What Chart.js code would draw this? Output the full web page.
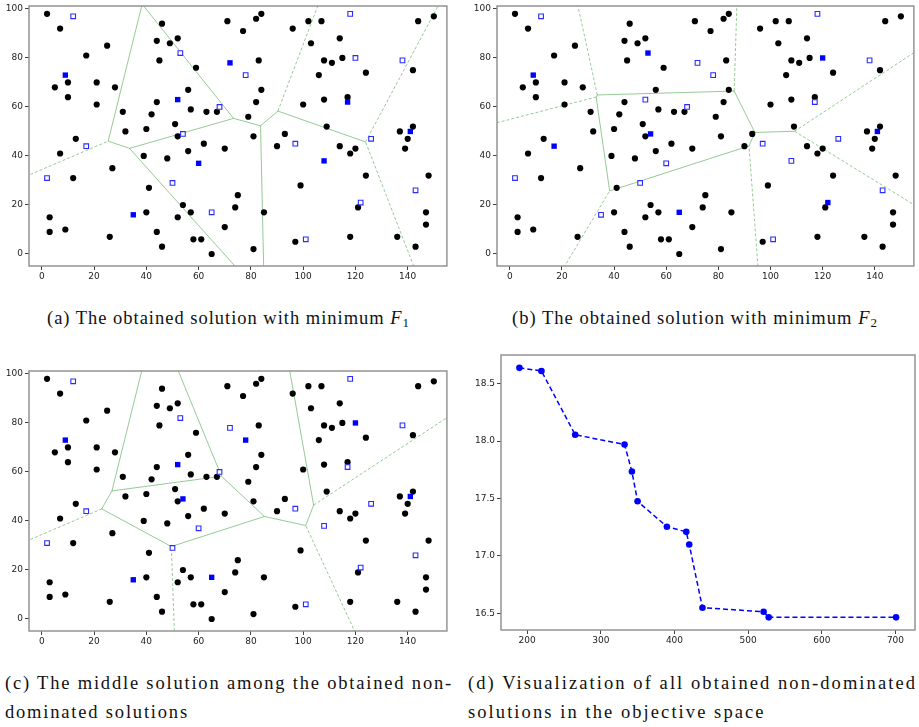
<!DOCTYPE html>
<html>
<head>
<meta charset="utf-8">
<script src="https://cdn.jsdelivr.net/npm/chart.js@4/dist/chart.umd.min.js"></script>
<style>
  body { margin: 0; background: #fff; width: 919px; height: 727px; position: relative; overflow: hidden; }
  canvas { position: absolute; }
  .cap { position: absolute; font-family: "Liberation Serif", "DejaVu Serif", serif; font-size: 18.5px; line-height: 20px; color: #111; white-space: nowrap; }
  .cap sub { font-size: 13px; line-height: 0; vertical-align: -3px; }
</style>
</head>
<body>
<canvas id="mapA" width="452" height="285" style="left:0;top:0"></canvas>
<canvas id="mapB" width="451" height="285" style="left:468px;top:0"></canvas>
<canvas id="mapC" width="452" height="285" style="left:0;top:365px"></canvas>
<canvas id="front" width="451" height="300" style="left:468px;top:349px"></canvas>

<div class="cap fit" data-w="363" style="left:47px;top:308px">(a) The obtained solution with minimum <i>F</i><sub>1</sub></div>
<div class="cap fit" data-w="366" style="left:512px;top:308px">(b) The obtained solution with minimum <i>F</i><sub>2</sub></div>
<div class="cap fit" data-w="448" id="c1" style="left:5px;top:673px">(c) The middle solution among the obtained non-</div>
<div class="cap" data-ref="c1" style="left:5px;top:702px">dominated solutions</div>
<div class="cap fit" data-w="449" id="d1" style="left:468px;top:673px">(d) Visualization of all obtained non-dominated</div>
<div class="cap" data-ref="d1" style="left:468px;top:702px">solutions in the objective space</div>

<script>
// customers (black dots), same in the three maps
const customers = [
  [2,98],[7,92],[25,85],[17,81],[10,70],[5,68],[21,70],[28,68],[10,64],[21,61],
  [31,58],[32,50],[13,47],[7,41],[27,35],[12,31],[3,15],[3,9],[9,10],[26,7],
  [39,40],[40,17],[41,27],[44,9],[40,51],[42,57],[44,62],[45,79],[44,87],[46,94],
  [49,86],[52,88],[59,76],[71,95],[77,91],[82,96],[84,98],[83,79],[84,67],[82,62],
  [79,56],[56,67],[57,59],[63,58],[67,58],[51,53],[52,48],[62,45],[56,42],[70,43],
  [48,39],[81,48],[75,24],[74,19],[54,20],[57,17],[52,15],[85,17],[70,11],[46,3],
  [58,6],[61,6],[65,0],[81,2],[93,49],[90,44],[100,61],[96,92],[102,95],[103,86],
  [99,28],[97,5],[107,95],[114,88],[108,79],[111,78],[115,80],[106,73],[124,74],[108,63],
  [117,64],[109,52],[114,44],[120,43],[118,41],[124,32],[121,19],[118,7],[136,7],[143,3],
  [147,12],[147,17],[148,32],[137,50],[142,52],[140,47],[139,43],[142,75],[144,95],[150,97]
];

// candidate facility sites (squares)
const candidates = [
  [12,97],[9,73],[17,44],[2,31],[35,16],[53,82],[78,73],[72,78],[52,63],[68,60],
  [54,49],[60,37],[50,29],[65,17],[97,45],[101,6],[118,98],[120,80],[138,79],[117,62],
  [126,47],[108,38],[141,50],[143,26],[122,21]
];

// opened facilities in each solution (filled squares)
const openedA = [[9,73],[35,16],[72,78],[52,63],[60,37],[117,62],[108,38],[141,50]];
const openedB = [[9,73],[17,44],[53,82],[54,49],[65,17],[120,80],[141,50],[122,21]];
const openedC = [[9,73],[52,63],[54,49],[35,16],[65,17],[78,73],[120,80],[141,50]];

const mapXTicks = [0, 20, 40, 60, 80, 100, 120, 140];
const mapYTicks = [0, 20, 40, 60, 80, 100];

// non-dominated front
const frontF1 = [189.5, 219.4, 265.2, 332.2, 342.2, 349.9, 389.7, 416, 420, 438, 521, 527.9, 700.8];
const frontF2 = [18.637, 18.61, 18.055, 17.97, 17.735, 17.476, 17.255, 17.21, 17.10, 16.55, 16.515, 16.466, 16.466];
const frontXTicks = [200, 300, 400, 500, 600, 700];
const frontYTicks = [16.5, 17.0, 17.5, 18.0, 18.5];

const tickFont = { family: 'DejaVu Sans', size: 9 };
const green = 'rgba(0,128,0,0.42)';

const frame = {
  id: 'frame',
  afterDraw(chart) {
    const a = chart.chartArea, ctx = chart.ctx;
    ctx.save();
    ctx.strokeStyle = '#8c8c8c';
    ctx.lineWidth = 1.4;
    ctx.strokeRect(a.left, a.top, a.right - a.left, a.bottom - a.top);
    ctx.restore();
  }
};

// voronoi ridges of the opened sites, cells clipped from a big box
function ridges(sites) {
  const B = 1000, out = [];
  sites.forEach((p, i) => {
    let poly = [[-B, -B, -1], [B, -B, -1], [B, B, -1], [-B, B, -1]];
    sites.forEach((q, j) => {
      if (i === j) return;
      const nx = q[0] - p[0], ny = q[1] - p[1];
      const c = (nx * (p[0] + q[0]) + ny * (p[1] + q[1])) / 2;
      const f = v => nx * v[0] + ny * v[1] - c;
      const next = [];
      for (let k = 0; k < poly.length; k++) {
        const a = poly[k], b = poly[(k + 1) % poly.length];
        const fa = f(a), fb = f(b);
        if (fa <= 0) {
          next.push(a);
          if (fb > 0) {
            const t = fa / (fa - fb);
            next.push([a[0] + t * (b[0] - a[0]), a[1] + t * (b[1] - a[1]), j]);
          }
        } else if (fb <= 0) {
          const t = fa / (fa - fb);
          next.push([a[0] + t * (b[0] - a[0]), a[1] + t * (b[1] - a[1]), a[2]]);
        }
      }
      poly = next;
    });
    poly.forEach((a, k) => {
      if (a[2] <= i) return;
      const b = poly[(k + 1) % poly.length];
      const onBox = v => Math.abs(v[0]) > B - 1e-6 || Math.abs(v[1]) > B - 1e-6;
      out.push({ pts: [{ x: a[0], y: a[1] }, { x: b[0], y: b[1] }], infinite: onBox(a) || onBox(b) });
    });
  });
  return out;
}

const xy = arr => arr.map(p => ({ x: p[0], y: p[1] }));

function fixedAxes(xMin, xMax, yMin, yMax, xt, yt, yWidth, xHeight, yFmt) {
  const base = {
    type: 'linear',
    border: { display: false },
    grid: { drawOnChartArea: false, drawTicks: true, tickLength: 4, color: '#444', lineWidth: 1 },
  };
  return {
    x: Object.assign({}, base, {
      min: xMin, max: xMax,
      ticks: { font: tickFont, color: '#222', padding: 1, maxRotation: 0 },
      afterBuildTicks: s => { s.ticks = xt.map(v => ({ value: v })); },
      afterFit: s => { s.height = xHeight; s.paddingLeft = s.paddingRight = 0; }
    }),
    y: Object.assign({}, base, {
      min: yMin, max: yMax,
      ticks: { font: tickFont, color: '#222', padding: 2, callback: yFmt || (v => v) },
      afterBuildTicks: s => { s.ticks = yt.map(v => ({ value: v })); },
      afterFit: s => { s.width = yWidth; s.paddingTop = s.paddingBottom = 0; }
    })
  };
}

function mapChart(id, opened) {
  const isOpen = c => opened.some(o => o[0] === c[0] && o[1] === c[1]);
  const datasets = [
    { data: xy(opened), pointStyle: 'rect', pointRadius: 3.8, backgroundColor: '#0000ff', borderWidth: 0 },
    { data: xy(candidates.filter(c => !isOpen(c))), pointStyle: 'rect', pointRadius: 3.3,
      backgroundColor: '#ffffff', borderColor: '#2b2bff', borderWidth: 1.1 },
    { data: xy(customers), pointStyle: 'circle', pointRadius: 3.1, backgroundColor: '#000', borderWidth: 0 }
  ];
  ridges(opened).forEach(r => datasets.push({
    data: r.pts, showLine: true, pointRadius: 0, borderColor: green, borderWidth: 1,
    borderDash: r.infinite ? [3, 2] : []
  }));
  new Chart(document.getElementById(id), {
    type: 'scatter',
    data: { datasets },
    options: {
      responsive: false, animation: false,
      layout: { padding: { top: 6, right: id === 'mapB' ? 4 : 5, left: 0, bottom: 0 } },
      plugins: { legend: { display: false }, tooltip: { enabled: false } },
      scales: fixedAxes(-4.9, 155, -4.9, 101.2, mapXTicks, mapYTicks, 29, 19)
    },
    plugins: [frame]
  });
}

mapChart('mapA', openedA);
mapChart('mapB', openedB);
mapChart('mapC', openedC);

new Chart(document.getElementById('front'), {
  type: 'scatter',
  data: {
    datasets: [{
      data: frontF1.map((v, i) => ({ x: v, y: frontF2[i] })),
      showLine: true, borderColor: '#0000ff', borderWidth: 1.5, borderDash: [5, 3],
      pointStyle: 'circle', pointRadius: 3.3, backgroundColor: '#0000ff', pointBorderWidth: 0
    }]
  },
  options: {
    responsive: false, animation: false,
    layout: { padding: { top: 6, right: 4, left: 0, bottom: 0 } },
    plugins: { legend: { display: false }, tooltip: { enabled: false } },
    scales: fixedAxes(164.5, 726.5, 16.356, 18.749, frontXTicks, frontYTicks, 33, 19, v => v.toFixed(1))
  },
  plugins: [frame]
});

// stretch captions to the printed line widths
const spacing = {};
document.querySelectorAll('.cap.fit').forEach(el => {
  const w = el.getBoundingClientRect().width;
  const ls = (+el.dataset.w - w) / el.textContent.length;
  el.style.letterSpacing = ls + 'px';
  if (el.id) spacing[el.id] = ls;
});
document.querySelectorAll('.cap[data-ref]').forEach(el => {
  el.style.letterSpacing = spacing[el.dataset.ref] + 'px';
});
</script>
</body>
</html>
